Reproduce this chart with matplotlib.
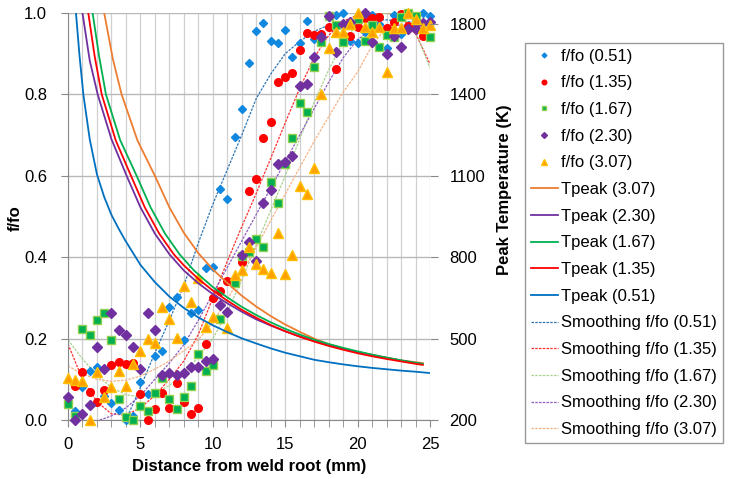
import numpy as np
import matplotlib
matplotlib.use("Agg")
import matplotlib.pyplot as plt

plt.rcParams['font.family'] = ['Liberation Sans', 'DejaVu Sans']

# measured f/fo values, every 0.5 mm from 0 to 25 mm (nan = no point)
dist = np.arange(0, 25.5, 0.5)
nan = np.nan

ff_051 = [nan, 0.022, 0.081, 0.12, 0.13, 0.059, 0.042, 0.025, 0.0, 0.01,
          0.094, 0.064, 0.157, 0.17, 0.278, 0.302, 0.196, 0.262, 0.27, 0.373,
          0.376, 0.567, 0.543, 0.695, 0.764, 0.877, 0.956, 0.975, 0.931, 0.926,
          0.958, 0.892, 0.926, 0.98, 0.936, 0.94, 0.99, 0.995, 1.0, 0.93,
          0.926, 0.953, 0.995, 0.973, 0.914, 0.995, 0.948, 0.998, 0.973, 1.0,
          0.993]
ff_135 = [nan, 0.083, 0.118, 0.07, 0.043, 0.074, 0.135, 0.143, 0.137, 0.14,
          0.064, 0.0, 0.027, 0.067, 0.03, 0.091, 0.044, 0.015, 0.03, 0.187,
          0.3, 0.317, 0.341, 0.346, 0.388, 0.563, 0.592, 0.693, 0.732, 0.83,
          0.843, 0.853, 0.91, 0.95, 0.946, 0.948, 0.966, 0.862, nan, 0.943,
          0.966, 0.988, 0.988, 0.99, 0.963, 0.978, 0.998, 0.968, 0.96, 0.943,
          nan]
ff_167 = [0.039, 0.01, 0.224, 0.209, 0.245, 0.263, 0.196, 0.052, 0.008, 0.0,
          0.035, 0.022, 0.066, 0.102, 0.052, 0.027, 0.057, 0.083, 0.162, 0.12,
          0.135, 0.247, nan, 0.337, 0.403, 0.413, 0.445, 0.425, 0.585, 0.533,
          0.63, 0.693, 0.779, 0.757, 0.867, 0.928, 0.993, 0.97, 0.928, 0.97,
          0.985, 0.93, 0.97, 0.917, 0.946, 0.94, 0.99, 1.0, 0.993, nan,
          0.94]
ff_230 = [0.057, 0.0, 0.015, 0.037, 0.18, 0.125, 0.263, 0.221, 0.209, 0.179,
          0.125, 0.263, 0.221, 0.11, 0.115, 0.11, 0.115, 0.13, 0.13, 0.145,
          0.149, 0.282, 0.266, nan, 0.405, 0.437, 0.39, 0.533, 0.566, 0.629,
          0.634, 0.649, 0.82, 0.826, 0.892, 0.94, 0.993, 0.905, 0.973, 0.978,
          nan, 1.0, 0.928, nan, 0.9, 0.943, 0.916, 0.96, 0.96, 0.975,
          0.978]
ff_307 = [0.103, 0.098, 0.096, 0.0, 0.118, 0.057, 0.081, 0.12, 0.083, 0.138,
          0.17, 0.199, 0.19, 0.278, 0.248, 0.201, 0.33, 0.29, 0.349, 0.228,
          0.253, nan, 0.226, 0.356, 0.369, 0.425, 0.383, 0.371, 0.361, 0.459,
          0.359, 0.405, 0.575, 0.555, 0.619, 0.8, 0.914, 0.953, 0.953, 0.973,
          1.0, 0.966, 0.953, 0.966, 0.855, 0.963, 0.963, 1.0, 0.985, 0.963,
          0.97]

# smoothing curves
sm_x = list(range(0, 26))
sm_051_x = list(range(4, 26))
sm_051 = [0.0, 0.08, 0.165, 0.245, 0.33, 0.435, 0.53, 0.615, 0.7, 0.79, 0.85,
          0.9, 0.93, 0.955, 0.97, 0.978, 0.982, 0.984, 0.983, 0.98, 0.977, 0.975]
sm_135 = [0.187, 0.1, 0.045, 0.015, 0.012, 0.03, 0.06, 0.1, 0.145, 0.21, 0.3,
          0.39, 0.475, 0.557, 0.643, 0.73, 0.815, 0.89, 0.945, 0.98, 0.995,
          1.0, 1.0, 0.99, 0.95, 0.875]
sm_167 = [0.197, 0.15, 0.11, 0.08, 0.062, 0.057, 0.065, 0.085, 0.115, 0.155,
          0.2, 0.265, 0.345, 0.43, 0.515, 0.6, 0.69, 0.78, 0.86, 0.93, 0.975,
          0.995, 1.0, 0.995, 0.955, 0.865]
sm_230_x = [2.2] + list(range(3, 26))
sm_230 = [0.0, 0.01, 0.03, 0.06, 0.1, 0.14, 0.185, 0.245, 0.31, 0.375, 0.44,
          0.505, 0.57, 0.635, 0.7, 0.765, 0.83, 0.89, 0.935, 0.96, 0.97, 0.97,
          0.972, 0.975]
sm_307 = [0.133, 0.113, 0.1, 0.095, 0.098, 0.108, 0.125, 0.145, 0.17, 0.197,
          0.24, 0.295, 0.36, 0.425, 0.49, 0.555, 0.62, 0.685, 0.745, 0.805,
          0.855, 0.92, 0.965, 0.985, 0.985, 0.975]

# peak temperature curves (K)
tp_051_x = [0.55, 0.8, 1.06, 1.5, 2, 2.5, 3, 3.5, 3.94, 5, 6, 7, 8, 9, 10, 11,
            12, 13, 14, 15, 16, 17, 18, 19, 20, 21, 22, 23, 24, 25]
tp_051 = [1700, 1540, 1400, 1235, 1105, 1022, 956, 905, 863, 772, 708, 655, 613,
          578, 549, 524, 501, 482, 464, 448, 435, 422, 413, 405, 398, 392, 387,
          382, 378, 373]
tp_135_x = [1.4, 1.85, 2.33, 3.3, 4.35, 5.3, 6.3, 7.3, 8, 9, 10, 11, 12, 13, 14,
            15, 16, 17, 18, 19, 20, 21, 22, 23, 24, 24.5]
tp_135 = [1700, 1538, 1400, 1230, 1100, 984, 887, 811, 770, 720, 677, 640, 606,
          577, 550, 527, 507, 489, 473, 459, 446, 435, 425, 416, 407, 403]
tp_167_x = [1.7, 2.15, 2.62, 3.6, 4.74, 5.7, 6.7, 7.7, 8.7, 10, 11, 12, 13, 14,
            15, 16, 17, 18, 19, 20, 21, 22, 23, 24, 24.5]
tp_167 = [1700, 1540, 1400, 1232, 1100, 984, 887, 811, 751, 690, 652, 617, 587,
          560, 536, 515, 496, 480, 466, 453, 441, 430, 420, 411, 407]
tp_230_x = [1.0, 1.5, 2.05, 3.0, 4.05, 5, 6, 7, 8, 9, 10, 11, 12, 13, 14, 15,
            16, 17, 18, 19, 20, 21, 22, 23, 24, 24.5]
tp_230 = [1700, 1525, 1400, 1235, 1100, 984, 887, 811, 751, 704, 664, 630, 599,
          571, 548, 527, 508, 492, 477, 463, 450, 439, 429, 419, 410, 406]
tp_307_x = [2.5, 3.1, 3.7, 4.8, 6.0, 7.0, 8.0, 9, 10, 11, 12, 13, 14, 15, 16,
            17, 18, 19, 20, 21, 22, 23, 24, 24.5]
tp_307 = [1700, 1530, 1400, 1230, 1100, 984, 890, 815, 755, 705, 658, 618, 583,
          552, 525, 500, 480, 464, 451, 440, 430, 420, 413, 410]

labels = ['0.51', '1.35', '1.67', '2.30', '3.07']

fig = plt.figure(figsize=(7.33, 4.79), dpi=100)
ax = fig.add_axes([68/733, 1-420/479, 362/733, 407/479])
ax2 = ax.twinx()

# scatter points
pts = [(ff_051, 'D', 4, '#1088E0', '#1088E0'),
       (ff_135, 'o', 5.5, '#FF0000', '#FF0000'),
       (ff_167, 's', 5.6, '#00B050', '#92D050'),
       (ff_230, 'D', 5, '#7030A0', '#7030A0'),
       (ff_307, '^', 6.5, '#FFA000', '#FFC000')]
handles = []
for (vals, m, ms, fc, ec), lab in zip(pts, labels):
    h, = ax.plot(dist, vals, linestyle='none', marker=m, markersize=ms,
                 markerfacecolor=fc, markeredgecolor=ec, markeredgewidth=1,
                 clip_on=False, zorder=3, label='f/fo (%s)' % lab)
    handles.append(h)

# smoothing lines
sm = [(sm_051_x, sm_051, '#2E75B6'), (sm_x, sm_135, '#FF3030'),
      (sm_x, sm_167, '#A9D18E'), (sm_230_x, sm_230, '#8E5CC0'),
      (sm_x, sm_307, '#F4B183')]
sm_handles = []
for (xs, ys, c), lab in zip(sm, labels):
    h, = ax.plot(xs, ys, color=c, lw=0.9, linestyle=(0, (2, 1)), zorder=2,
                 label='Smoothing f/fo (%s)' % lab)
    sm_handles.append(h)

# peak temperature
tp = [(tp_307_x, tp_307, '#ED7D31', '3.07'), (tp_230_x, tp_230, '#7030A0', '2.30'),
      (tp_167_x, tp_167, '#00B050', '1.67'), (tp_135_x, tp_135, '#FF0000', '1.35'),
      (tp_051_x, tp_051, '#0070C0', '0.51')]
for xs, ys, c, lab in tp:
    h, = ax2.plot(xs, ys, color=c, lw=1.3, solid_joinstyle='round',
                  label='Tpeak (%s)' % lab)
    handles.append(h)
handles += sm_handles

ax.set_xlim(0, 25)
ax.set_ylim(0, 1)
ax2.set_ylim(200, 1700)

ax.set_xticks([0, 5, 10, 15, 20, 25])
ax.set_xticks(range(0, 26), minor=True)
ax.set_yticks([0, 0.2, 0.4, 0.6, 0.8, 1.0])
ax.set_yticklabels(['0.0', '0.2', '0.4', '0.6', '0.8', '1.0'])
ax.grid(axis='x', which='both', color='#D0D0D0', lw=0.9)
ax.grid(axis='y', which='major', color='#B8B8B8', lw=1.0)
ax.set_axisbelow(True)

ax2.set_yticks([200, 500, 800, 1100, 1400, 1660])
ax2.set_yticklabels(['200', '500', '800', '1100', '1400', '1800'])

for a in (ax, ax2):
    for s in ('top', 'right', 'bottom', 'left'):
        a.spines[s].set_visible(False)
ax.spines['left'].set_visible(True)
ax.spines['left'].set_color('#888888')
ax.spines['bottom'].set_visible(True)
ax.spines['bottom'].set_color('#888888')

ax.tick_params(axis='both', which='both', colors='#888888', labelcolor='black',
               labelsize=12)
ax.tick_params(axis='y', length=5, pad=10)
ax.tick_params(axis='x', which='major', length=5, pad=7)
ax.tick_params(axis='x', which='minor', length=5)
ax2.tick_params(axis='y', length=6, colors='#888888', labelcolor='black',
                labelsize=12, pad=8)

fig.text(249/733, 1-466/479, 'Distance from weld root (mm)', ha='center',
         va='center', fontsize=12, fontweight='bold')
fig.text(15/733, 1-218/479, 'f/fo', ha='center', va='center', rotation=90,
         fontsize=12, fontweight='bold')
fig.text(505/733, 1-190/479, 'Peak Temperature (K)', ha='center', va='center',
         rotation=90, fontsize=12, fontweight='bold')

leg = fig.legend(handles=handles, loc='upper left',
                 bbox_to_anchor=(525/733, 1-43/479), bbox_transform=fig.transFigure,
                 fontsize=12, frameon=True, fancybox=False, borderaxespad=0,
                 labelspacing=0.7, handlelength=1.6, handletextpad=0.2,
                 borderpad=0.35, markerscale=0.6, numpoints=1)
leg.get_frame().set_edgecolor('#808080')
leg.get_frame().set_linewidth(1.0)

fig.savefig('out.png', dpi=100)
